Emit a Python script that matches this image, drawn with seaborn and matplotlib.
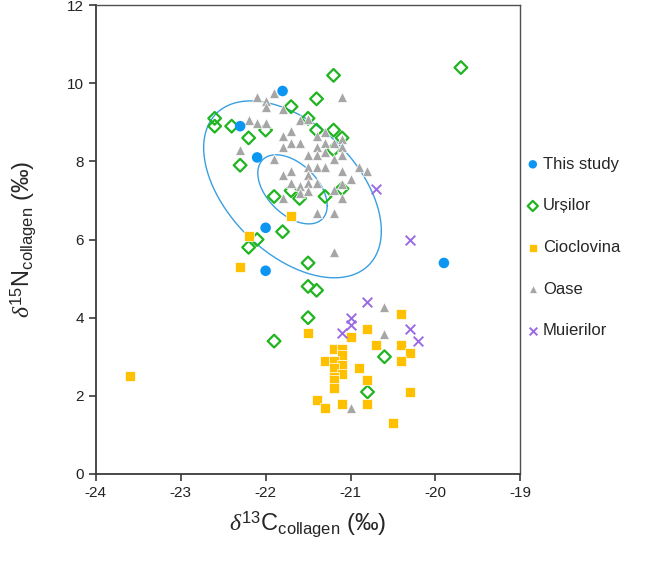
import numpy as np
import pandas as pd
import matplotlib
matplotlib.use("Agg")
import matplotlib.pyplot as plt
import seaborn as sns

# this study
study_x = [-21.8, -22.3, -22.1, -22.0, -22.0, -19.9]
study_y = [9.8, 8.9, 8.1, 6.3, 5.2, 5.4]

# Ursilor
urs_x = [-19.7, -21.2, -21.4, -21.7, -22.6, -22.6, -22.4, -22.0, -22.2, -21.4, -21.2,
         -21.5, -21.1, -21.2, -22.3, -21.9, -21.7, -21.6, -21.3, -21.1, -21.8, -22.1,
         -22.2, -21.5, -21.5, -21.4, -21.5, -21.9, -20.6, -20.8]
urs_y = [10.4, 10.2, 9.6, 9.4, 9.1, 8.9, 8.9, 8.8, 8.6, 8.8, 8.8,
         9.1, 8.6, 8.3, 7.9, 7.1, 7.25, 7.05, 7.1, 7.3, 6.2, 6.0,
         5.8, 5.4, 4.8, 4.7, 4.0, 3.4, 3.0, 2.1]

# Cioclovina
cio_x = [-23.6, -21.7, -22.2, -22.3, -20.4, -21.5, -21.0, -20.8, -20.7, -20.4,
         -20.3, -20.4, -21.2, -21.1, -21.1, -21.3, -21.2, -21.1, -21.2, -21.1,
         -21.2, -21.2, -20.9, -20.8, -21.2, -21.4, -21.3, -21.1, -20.8, -20.3, -20.5]
cio_y = [2.5, 6.6, 6.1, 5.3, 4.1, 3.6, 3.5, 3.7, 3.3, 3.3,
         3.1, 2.9, 3.2, 3.2, 3.05, 2.9, 2.9, 2.8, 2.7, 2.57,
         2.49, 2.4, 2.7, 2.4, 2.2, 1.9, 1.7, 1.8, 1.8, 2.1, 1.3]

# Oase
oase_x = [-22.1, -21.9, -22.0, -22.0, -21.1, -21.8, -21.6, -21.5, -22.2, -22.1,
          -22.0, -21.8, -21.7, -21.4, -21.3, -21.1, -21.8, -21.7, -21.6, -21.4,
          -21.4, -21.3, -21.2, -21.1, -21.3, -21.5, -21.2, -21.1, -22.3, -21.9,
          -21.5, -21.4, -21.3, -20.9, -20.8, -21.8, -21.7, -21.5, -21.1, -21.0,
          -21.7, -21.6, -21.5, -21.4, -21.6, -21.5, -21.2, -21.1, -21.8, -21.1,
          -21.4, -21.2, -21.2, -20.6, -20.6, -21.0]
oase_y = [9.65, 9.75, 9.55, 9.4, 9.65, 9.35, 9.05, 9.08, 9.05, 8.97,
          8.97, 8.65, 8.78, 8.65, 8.75, 8.58, 8.37, 8.46, 8.46, 8.37,
          8.16, 8.46, 8.46, 8.37, 8.24, 8.16, 8.07, 8.16, 8.29, 8.07,
          7.86, 7.86, 7.86, 7.86, 7.76, 7.66, 7.76, 7.65, 7.76, 7.56,
          7.45, 7.37, 7.45, 7.45, 7.18, 7.25, 7.26, 7.43, 7.05, 7.05,
          6.67, 6.67, 5.67, 4.28, 3.58, 1.68]

# Muierilor
mui_x = [-20.7, -20.3, -20.8, -21.0, -21.0, -21.1, -20.3, -20.2]
mui_y = [7.3, 6.0, 4.4, 4.0, 3.8, 3.6, 3.7, 3.4]

sites = ["This study", "Urșilor", "Cioclovina", "Oase", "Muierilor"]
xs = [study_x, urs_x, cio_x, oase_x, mui_x]
ys = [study_y, urs_y, cio_y, oase_y, mui_y]

df = pd.concat([pd.DataFrame({"site": s, "d13C": x, "d15N": y})
                for s, x, y in zip(sites, xs, ys)], ignore_index=True)

sns.set_style("ticks")
plt.rcParams["font.family"] = ["Liberation Sans", "DejaVu Sans"]
plt.rcParams["axes.unicode_minus"] = False
plt.rcParams["mathtext.fontset"] = "custom"
plt.rcParams["mathtext.rm"] = "Liberation Sans"
plt.rcParams["mathtext.it"] = "Liberation Serif:italic"

fig = plt.figure(figsize=(6.63, 5.64), dpi=100)
ax = fig.add_axes([0.1445, 0.1596, 0.6403, 0.8315])

# ellipses around this study's values
pts = np.array([study_x, study_y])
mean = pts.mean(axis=1)
L = np.linalg.cholesky(np.cov(pts))
t = np.linspace(0, 2 * np.pi, 300)
circ = np.vstack([np.cos(t), np.sin(t)])
for k in (1.1774, 0.46):
    e = mean[:, None] + k * L @ circ
    ax.plot(e[0], e[1], color="#3a9fe0", lw=1.0, zorder=1)

d = df[df.site == "Urșilor"]
sns.scatterplot(data=d, x="d13C", y="d15N", ax=ax, marker="D", s=42,
                color="#20b420", facecolor="none", edgecolor="#20b420",
                linewidth=1.6, label="Urșilor", zorder=2)
d = df[df.site == "Cioclovina"]
sns.scatterplot(data=d, x="d13C", y="d15N", ax=ax, marker="s", s=44,
                color="#ffc000", edgecolor="white", linewidth=0.5,
                label="Cioclovina", zorder=3)
d = df[df.site == "Oase"]
sns.scatterplot(data=d, x="d13C", y="d15N", ax=ax, marker="^", s=52,
                color="#a6a6a6", edgecolor="white", linewidth=0.5,
                label="Oase", zorder=4)
d = df[df.site == "Muierilor"]
sns.scatterplot(data=d, x="d13C", y="d15N", ax=ax, marker="x", s=48,
                color="#9a6ae6", linewidth=1.4, label="Muierilor", zorder=5)
d = df[df.site == "This study"]
sns.scatterplot(data=d, x="d13C", y="d15N", ax=ax, marker="o", s=58,
                color="#0c96f2", edgecolor="none", label="This study", zorder=6)

ax.set_xlim(-24, -19)
ax.set_ylim(0, 12)
ax.set_xticks(range(-24, -18))
ax.set_yticks(range(0, 13, 2))
for sp in ["left", "bottom"]:
    ax.spines[sp].set_linewidth(1.3)
    ax.spines[sp].set_color("#3a3a3a")
for sp in ["top", "right"]:
    ax.spines[sp].set_linewidth(1.0)
    ax.spines[sp].set_color("#505050")
ax.tick_params(direction="out", length=5, width=1.2, color="#3a3a3a",
               labelsize=11, labelcolor="#222222")

ax.set_xlabel(r"$\it{\delta}^{13}$C$_{\mathrm{collagen}}$ (‰)", fontsize=17, labelpad=7)
ax.set_ylabel(r"$\it{\delta}^{15}$N$_{\mathrm{collagen}}$ (‰)", fontsize=17, labelpad=21)

if ax.get_legend() is not None:
    ax.get_legend().remove()
handles, labels = ax.get_legend_handles_labels()
order = [labels.index(s) for s in sites]
fig.legend([handles[i] for i in order], [labels[i] for i in order],
           loc="upper left", bbox_to_anchor=(0.786, 0.734), frameon=False,
           fontsize=12, handlelength=0.6, handletextpad=0.3,
           labelspacing=1.6, markerscale=0.8, borderaxespad=0)

fig.savefig("out.png", dpi=100)
